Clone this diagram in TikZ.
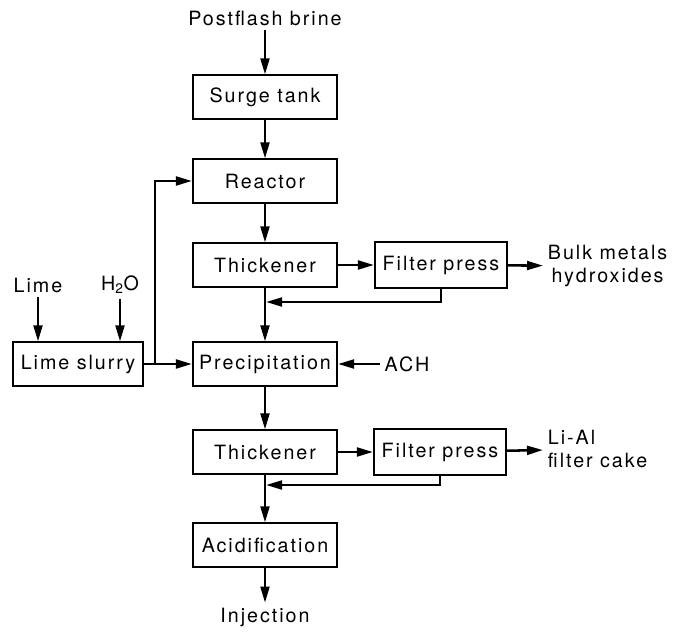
\documentclass[tikz,border=0pt]{standalone}
\usepackage{fontspec}
\setmainfont{TeX Gyre Heros}[LetterSpace=10]
\usetikzlibrary{%
    arrows.meta,
    positioning
}
\tikzset{headarrow/.style = {-{Triangle[length=4mm,width=2.2mm]}}}
\tikzset{flow/.style = {headarrow, line width=1.8pt}}
\tikzset{unit/.style = {draw, line width=1.4pt, inner sep=0pt,
                        minimum width=3.6cm, minimum height=1.08cm}}
\tikzset{press/.style = {unit, minimum width=3.3cm, minimum height=1.13cm}}

\begin{document}
\begin{tikzpicture}[x=0.025cm, y=-0.025cm, font=\fontsize{14}{16}\selectfont]
    \useasboundingbox (0,0) rectangle (673,632);

    % main line
    \node       (brine)   at (265,18)  {Postflash brine};
    \node[unit] (surge)   at (265,97)  {Surge tank};
    \node[unit] (reactor) at (265,181) {Reactor};
    \node[unit] (thick1)  at (265,265) {Thickener};
    \node[unit] (precip)  at (265,364) {Precipitation};
    \node[unit] (thick2)  at (265,452) {Thickener};
    \node[unit] (acid)    at (265,545) {Acidification};
    \node       (inject)  at (265,617) {Injection};

    % side streams
    \node[press] (fp1) at (441,265) {Filter press};
    \node[press] (fp2) at (440,452) {Filter press};
    \node[anchor=west, align=center] (bulk) at (543,266) {Bulk metals\\hydroxides};
    \node[anchor=west, align=left]   (cake) at (543,449) {Li-Al\\filter cake};
    \node       (ach)   at (407,364) {ACH};
    \node[unit, minimum width=3.25cm] (slurry) at (78,364) {Lime slurry};
    \node       (lime)  at (38,285)  {Lime};
    \node       (water) at (120,285) {H\textsubscript{2}O};

    \coordinate (back1) at (266,302);
    \coordinate (back2) at (266,485);
    \coordinate (split) at (155,364);

    \foreach \Source/\Target in {brine/surge, surge/reactor, reactor/thick1,
                                 thick1/precip, precip/thick2, thick2/acid,
                                 acid/inject, thick1/fp1, fp1/bulk,
                                 thick2/fp2, fp2/cake, ach/precip, slurry/precip}
        \draw[flow] (\Source) -- (\Target);
    \foreach \Feed in {lime, water}
        \draw[flow] (\Feed) -- (\Feed |- slurry.north);
    \draw[flow] (fp1.south) |- (back1);
    \draw[flow] (fp2.south) |- (back2);
    \draw[flow] (split) |- (reactor);
\end{tikzpicture}
\end{document}
